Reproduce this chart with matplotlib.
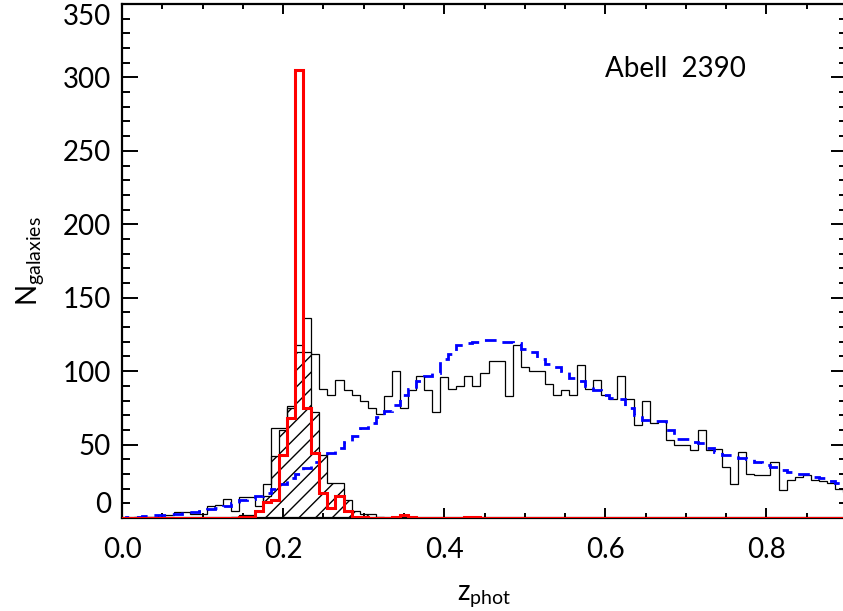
import numpy as np
import matplotlib
matplotlib.use("Agg")
import matplotlib.pyplot as plt
from matplotlib.ticker import MultipleLocator

DPI = 100
S = 100.0 / DPI

plt.rcParams['font.family'] = ['Lato', 'DejaVu Sans']
plt.rcParams['mathtext.fontset'] = 'custom'
plt.rcParams['mathtext.rm'] = 'Lato'
plt.rcParams['mathtext.it'] = 'Lato'
plt.rcParams['hatch.linewidth'] = 1.0 * S

# photometric-redshift bin centres (IDL psym=10 style, step centred on value)
bin_width = 0.01
z_first, n_bins = 0.0, 91

# all galaxies (thin black)
n_all = [0, 0, 1, 1, 1, 2, 2, 4, 4, 3,
         3, 8, 9, 13, 5, 14, 14, 8, 23, 61,
         61, 76, 118, 136, 112, 88, 84, 94, 87, 84,
         80, 75, 71, 83, 100, 75, 87, 97, 87, 72,
         96, 88, 90, 97, 90, 99, 107, 107, 83, 118,
         103, 100, 100, 91, 84, 87, 84, 104, 88, 94,
         84, 81, 97, 81, 63, 80, 65, 66, 53, 50,
         50, 46, 60, 46, 47, 35, 23, 45, 30, 29,
         29, 38, 19, 26, 28, 29, 26, 25, 24, 20,
         18]

# field / model expectation (blue dashed)
n_model = [0, 0.5, 1, 1.5, 2, 2, 2.5, 3, 4, 4,
           5, 6, 7, 8, 10, 12, 13, 15, 17, 20,
           23, 27, 30, 34, 38, 42, 44, 48, 52, 56,
           61, 65, 69, 73, 77, 84, 88, 93, 97, 99,
           108, 112, 118, 119, 120, 121, 121, 120, 120, 119,
           115, 113, 108, 105, 103, 100, 95, 93, 90, 87,
           84, 82, 81, 75, 70, 67, 66, 66, 60, 54,
           54, 52, 51, 48, 45, 43, 43, 41, 40, 38,
           36, 35, 33, 31, 30, 30, 28, 27, 25, 24,
           23]

# cluster members (hatched)
n_member = [0, 0, 0, 0, 0, 0, 0, 0, 0, 0,
            0, 0, 0, 0, 1, 2, 2, 5, 15, 42,
            60, 75, 113, 113, 72, 43, 24, 24, 12, 5,
            3, 3, 1, 0, 1, 1, 0, 0, 0, 0,
            0, 0, 0, 0, 0, 0, 0, 0, 0, 0,
            0, 0, 0, 0, 0, 0, 0, 0, 0, 0,
            0, 0, 0, 0, 0, 0, 0, 0, 0, 0,
            0, 0, 0, 0, 0, 0, 0, 0, 0, 0,
            0, 0, 0, 0, 0, 0, 0, 0, 0, 0,
            0]

# spectroscopic members (red)
n_spec = [0, 0, 0, 0, 0, 0, 0, 0, 0, 0,
          0, 0, 0, 0, 0, 1, 1, 5, 11, 12,
          43, 68, 305, 75, 44, 17, 7, 15, 5, 1,
          1, 0, 0, 0, 1, 2, 1, 0, 0, 0,
          0, 0, 0, 1, 1, 0, 0, 0, 0, 0,
          0, 0, 0, 0, 0, 0, 0, 0, 0, 0,
          0, 0, 0, 0, 0, 0, 0, 0, 0, 0,
          0, 0, 0, 0, 0, 0, 0, 0, 0, 0,
          0, 0, 0, 0, 0, 0, 0, 0, 0, 0,
          0]

x_ticks = [0.0, 0.2, 0.4, 0.6, 0.8]
x_tick_labels = ["0.0", "0.2", "0.4", "0.6", "0.8"]
y_ticks = [0, 50, 100, 150, 200, 250, 300, 350]
y_tick_labels = ["0", "50", "100", "150", "200", "250", "300", "350"]
label_text = "Abell  2390"

edges = z_first - bin_width / 2 + bin_width * np.arange(n_bins + 1)

fig = plt.figure(figsize=(843 / DPI, 611 / DPI), dpi=DPI)
ax = fig.add_axes([122 / 843, 93 / 611, 725 / 843, 514 / 611])

ax.stairs(n_all, edges, color='black', lw=0.9 * S, zorder=2)
ax.stairs(n_member, edges, fill=True, facecolor='none', edgecolor='black',
          hatch='//', lw=0.9 * S, zorder=3)
ax.stairs(n_model, edges, color='blue', lw=2.0 * S, linestyle=(0, (4.2, 2.8)), zorder=4)
ax.stairs(n_spec, edges, color='red', lw=2.2 * S, zorder=5)

ax.set_xlim(0, 0.9)
ax.set_ylim(0, 350)
ax.set_xticks(x_ticks)
ax.set_xticklabels(x_tick_labels)
ax.set_yticks(y_ticks)
ax.set_yticklabels(y_tick_labels)
ax.xaxis.set_minor_locator(MultipleLocator(0.05))
ax.yaxis.set_minor_locator(MultipleLocator(10))

fs = 20 * S
ax.tick_params(axis='both', which='both', direction='in', top=True, right=True,
               width=1.4 * S, labelsize=fs, colors='black')
ax.tick_params(axis='x', which='major', length=7.2 * S, pad=14 * S)
ax.tick_params(axis='x', which='minor', length=3.6 * S)
ax.tick_params(axis='y', which='major', length=11.5 * S, pad=8 * S)
ax.tick_params(axis='y', which='minor', length=5.8 * S)
for s in ax.spines.values():
    s.set_linewidth(1.6 * S)

# IDL-style: end labels kept inside the axis range
ylabels = ax.get_yticklabels()
ylabels[0].set_va('bottom')
ylabels[-1].set_va('top')

ax.set_xlabel(r'$\mathregular{z_{phot}}$', fontsize=fs, labelpad=14 * S)
ax.set_ylabel(r'$\mathregular{N_{galaxies}}$', fontsize=fs, labelpad=12 * S)

ax.text(0.599, 306, label_text, fontsize=fs, ha='left', va='center')

fig.savefig("out.png", dpi=DPI)
